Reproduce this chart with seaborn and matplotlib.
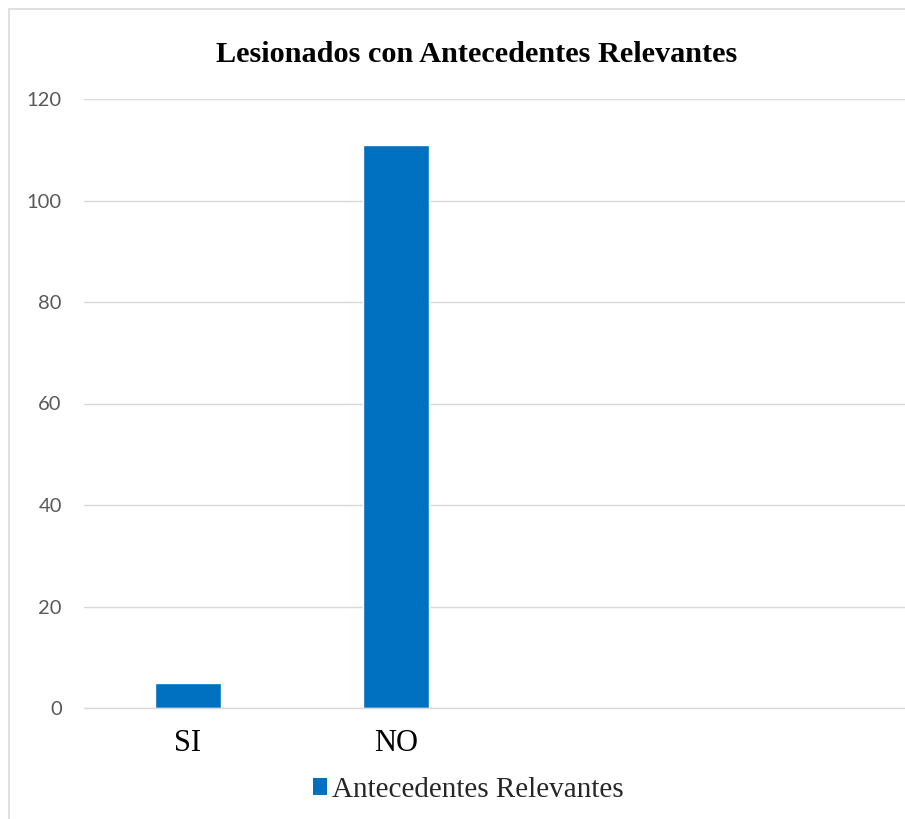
import matplotlib
matplotlib.use("Agg")
import matplotlib.pyplot as plt
from matplotlib.patches import Rectangle
import pandas as pd
import seaborn as sns

# Data
categories = ["SI", "NO"]
values = [5, 111]
series_name = "Antecedentes Relevantes"
title = "Lesionados con Antecedentes Relevantes"
y_ticks = [0, 20, 40, 60, 80, 100, 120]

df = pd.DataFrame({"categoria": categories, "valor": values})

sns.set_theme(style="white")
plt.rcParams["font.family"] = ["Liberation Serif", "DejaVu Serif"]

W, H = 905, 819
fig = plt.figure(figsize=(W / 100, H / 100), dpi=100)
fig.patch.set_facecolor("white")

# plot area: four category slots, the last two empty
left_px, top_px, bottom_px, slot_px = 84, 99, 708, 208
ax = fig.add_axes([left_px / W, 1 - bottom_px / H,
                   4 * slot_px / W, (bottom_px - top_px) / H])

bar_color = "#0070C0"
sns.barplot(data=df, x="categoria", y="valor", order=categories,
            color=bar_color, width=0.32, saturation=1, ax=ax,
            label=series_name, errorbar=None)

ax.set_xlim(-0.5, 3.5)
ax.set_ylim(0, 120)
ax.set_yticks(y_ticks)
ax.set_xlabel("")
ax.set_ylabel("")
ax.grid(axis="y", color="#d9d9d9", linewidth=1.0)
ax.set_axisbelow(True)
for side in ["left", "right", "top"]:
    ax.spines[side].set_visible(False)
ax.spines["bottom"].set_color("#d9d9d9")
ax.spines["bottom"].set_linewidth(1.0)
ax.tick_params(axis="both", length=0)
ax.tick_params(axis="y", pad=16)
ax.tick_params(axis="x", pad=15)
for lbl in ax.get_yticklabels():
    lbl.set_fontfamily(["Lato", "DejaVu Sans"])
    lbl.set_fontsize(14.5)
    lbl.set_color("#595959")
for lbl in ax.get_xticklabels():
    lbl.set_fontsize(22)
    lbl.set_color("black")

if ax.get_legend() is not None:
    ax.get_legend().remove()

handles = [Rectangle((0, 0), 1, 1, facecolor=bar_color, edgecolor="none")]
fig.legend(handles, [series_name], loc="center",
           bbox_to_anchor=(468 / W, 1 - 790 / H), frameon=False,
           fontsize=21, handlelength=0.5, handleheight=0.5,
           handletextpad=0.15, borderpad=0)

fig.text(477 / W, 1 - 55 / H, title, ha="center", va="center",
         fontsize=21.8, fontweight="bold", color="black")

# chart frame
fig.add_artist(Rectangle((8.5 / W, -0.1), 1.2, 1.1 - 9.5 / H,
                         transform=fig.transFigure, facecolor="none",
                         edgecolor="#d9d9d9", linewidth=1.2))

fig.savefig("out.png", dpi=100, facecolor="white")
